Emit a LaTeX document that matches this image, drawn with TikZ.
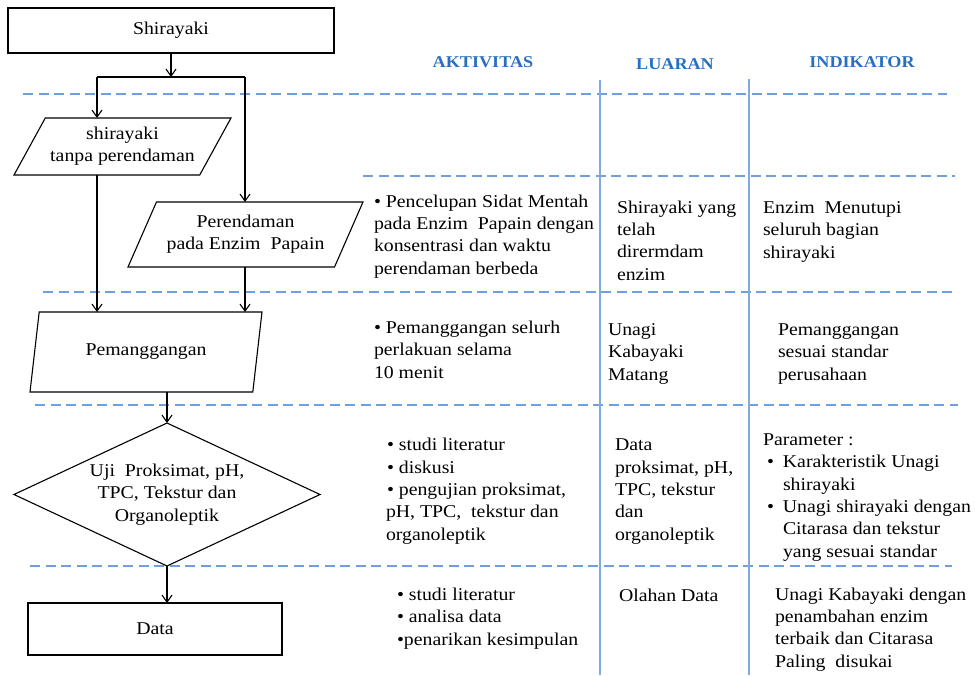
\documentclass[tikz,border=0pt]{standalone}
\usepackage{fontspec}
\setmainfont[FakeStretch=1.1]{Liberation Serif}
\usetikzlibrary{shapes.geometric,arrows.meta}
\definecolor{hdr}{RGB}{40,112,190}
\definecolor{dsh}{RGB}{110,160,222}
\definecolor{vln}{RGB}{130,170,225}
\begin{document}
\begin{tikzpicture}[x=1pt,y=-1pt,
  every node/.style={font=\fontsize{18}{22.3}\selectfont, inner sep=0pt, outer sep=0pt},
  box/.style={draw, line width=1.1pt, rectangle},
  para/.style={draw, line width=1.1pt, trapezium, trapezium stretches body, align=center},
  dec/.style={draw, line width=1.1pt, diamond, align=center},
  flow/.style={line width=1.1pt, -{Straight Barb[length=7pt,width=10pt]}},
  conn/.style={line width=1.1pt},
  hdash/.style={dsh, line width=1.4pt, dash pattern=on 10pt off 5.5pt},
  vline/.style={vln, line width=1.4pt},
  head/.style={hdr, font=\fontsize{16.5}{20}\selectfont\bfseries},
  cell/.style={anchor=base west, align=left}
]
\useasboundingbox (0,0) rectangle (975,675);

% table lines
\draw[hdash] (23,94) -- (947,94);
\draw[hdash] (363,176) -- (955,176);
\draw[hdash] (43,292) -- (957,292);
\draw[hdash] (35,405) -- (958,405);
\draw[hdash] (30,566) -- (952,566);
\draw[vline] (600,80) -- (600,675);
\draw[vline] (749,79) -- (749,675);

% flowchart
\node[box, minimum width=326pt, minimum height=45pt] (s) at (171,30.5) {Shirayaki};
\node[para, trapezium left angle=51, trapezium right angle=129, minimum width=217pt, minimum height=57pt] (p1) at (122.5,146.5) {shirayaki\\tanpa perendaman};
\node[para, trapezium left angle=53.6, trapezium right angle=126.4, minimum width=235pt, minimum height=65pt] (p2) at (245.5,234.5) {Perendaman\\pada Enzim\ \ Papain};
\node[para, trapezium left angle=59.6, trapezium right angle=120.4, minimum width=232pt, minimum height=80pt] (pem) at (146,352) {Pemanggangan};
\node[dec, aspect=2.14, minimum width=306pt, minimum height=143pt] (uji) at (167,494.5) {Uji\ \ Proksimat, pH,\\TPC, Tekstur dan\\Organoleptik};
\node[box, minimum width=254pt, minimum height=52pt] (data) at (155,629) {Data};

\coordinate (jL) at (97,77);
\coordinate (jR) at (245,77);
\draw[flow] (s.south) -- (s.south |- jL);
\draw[conn] (jL) -- (jR);
\draw[flow] (jL) -- (jL |- p1.north);
\draw[flow] (jR) -- (jR |- p2.north);
\draw[flow] (jL |- p1.south) -- (jL |- pem.north);
\draw[flow] (jR |- p2.south) -- (jR |- pem.north);
\draw[flow] (uji.north |- pem.south) -- (uji.north);
\draw[flow] (uji.south) -- (uji.south |- data.north);

% headers
\node[head] (hA) at (483,62) {AKTIVITAS};
\node[head] (hL) at (675,64) {LUARAN};
\node[head] (hI) at (862,62) {INDIKATOR};

% cells (base anchor = baseline of the last line)
\node[cell] (a1) at (374,274) {• Pencelupan Sidat Mentah\\pada Enzim\ \ Papain dengan\\konsentrasi dan waktu\\perendaman berbeda};
\node[cell] (l1) at (617,280) {Shirayaki yang\\telah\\dirermdam\\enzim};
\node[cell] (i1) at (763,258) {Enzim\ \ Menutupi\\seluruh bagian\\shirayaki};
\node[cell] (a2) at (374,378) {• Pemanggangan selurh\\perlakuan selama\\10 menit};
\node[cell] (l2) at (608,380) {Unagi\\Kabayaki\\Matang};
\node[cell] (i2) at (778,380) {Pemanggangan\\sesuai standar\\perusahaan};
\node[cell] (a3) at (386,540) {\hspace*{1pt}• studi literatur\\\hspace*{1pt}• diskusi\\\hspace*{1pt}• pengujian proksimat,\\pH, TPC,\ \ tekstur dan\\organoleptik};
\node[cell] (l3) at (615,540) {Data\\proksimat, pH,\\TPC, tekstur\\dan\\organoleptik};
\node[cell] (i3) at (763,557) {Parameter :\\\hspace*{4pt}•\hspace*{9pt}Karakteristik Unagi\\\hspace*{20pt}shirayaki\\\hspace*{4pt}•\hspace*{9pt}Unagi shirayaki dengan\\\hspace*{20pt}Citarasa dan tekstur\\\hspace*{20pt}yang sesuai standar};
\node[cell] (a4) at (397,645) {• studi literatur\\• analisa data\\•penarikan kesimpulan};
\node[cell] (l4) at (619,601) {Olahan Data};
\node[cell] (i4) at (775,667) {Unagi Kabayaki dengan\\penambahan enzim\\terbaik dan Citarasa\\Paling\ \ disukai};
\end{tikzpicture}
\end{document}
